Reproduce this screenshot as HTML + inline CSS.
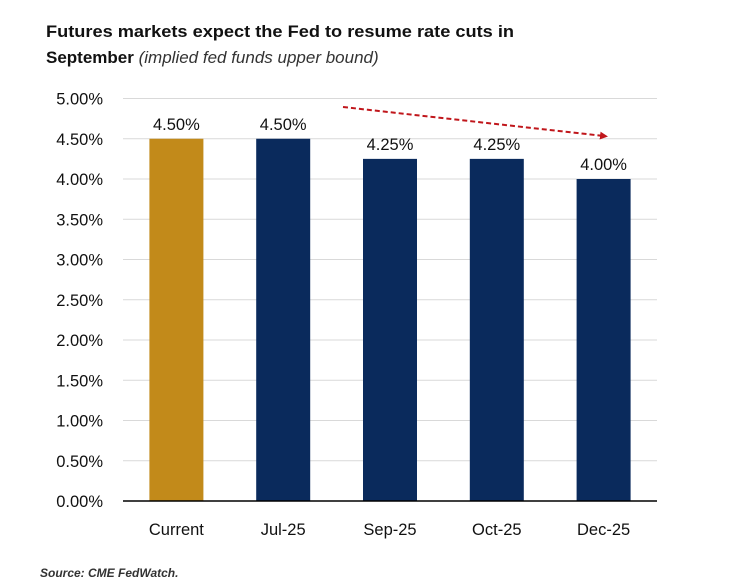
<!DOCTYPE html>
<html><head><meta charset="utf-8"><style>
body{margin:0;background:#fff;}
svg{display:block;font-family:"Liberation Sans",sans-serif;}
</style></head><body>
<svg id="chart" width="730" height="581" viewBox="0 0 730 581">
<text x="46" y="37" font-size="17" font-weight="bold" fill="#111" textLength="468" lengthAdjust="spacingAndGlyphs">Futures markets expect the Fed to resume rate cuts in</text>
<text x="46" y="63" font-size="17" fill="#111"><tspan font-weight="bold">September</tspan> <tspan font-style="italic" fill="#333">(implied fed funds upper bound)</tspan></text>
<g id="grid"></g>
<g id="bars"></g>
<g id="labels"></g>
<defs><marker id="ah" markerUnits="userSpaceOnUse" markerWidth="8" markerHeight="8" refX="4" refY="4" orient="auto"><path d="M0,0 L8,4 L0,8 z" fill="#c0161b"/></marker></defs>
<line x1="343" y1="107" x2="604" y2="136" stroke="#c0161b" stroke-width="2" stroke-dasharray="5,3" marker-end="url(#ah)"/>
<text x="40" y="577" font-size="12" font-weight="bold" font-style="italic" fill="#333">Source: CME FedWatch.</text>
</svg>
<script>
const categories=["Current","Jul-25","Sep-25","Oct-25","Dec-25"];
const values=[4.50,4.50,4.25,4.25,4.00];
const barColors=["#c28a1a","#0a2a5c","#0a2a5c","#0a2a5c","#0a2a5c"];
const ticks=[0,0.5,1,1.5,2,2.5,3,3.5,4,4.5,5];
const NS="http://www.w3.org/2000/svg";
const x0=123,x1=657,yTop=98.5,yBot=501,yMax=5;
const y=v=>yBot-(v/yMax)*(yBot-yTop);
const band=(x1-x0)/categories.length;
const xc=i=>x0+band*(i+0.5);
const bw=54;
function mk(t,a,p){const e=document.createElementNS(NS,t);for(const k in a)e.setAttribute(k,a[k]);p.appendChild(e);return e;}
const g=document.getElementById('grid'),b=document.getElementById('bars'),l=document.getElementById('labels');
ticks.forEach(t=>{
 if(t>0){const ln=mk('line',{x1:x0,x2:x1,y1:y(t),y2:y(t),stroke:'#d9d9d9','stroke-width':1},g);
 
 }
 const tx=mk('text',{x:103,y:y(t)+6,'font-size':16.5,'text-anchor':'end',fill:'#111'},l);
 tx.textContent=t.toFixed(2)+'%';
 
 
});
categories.forEach((c,i)=>{
 const r=mk('rect',{x:xc(i)-bw/2,y:y(values[i]),width:bw,height:yBot-y(values[i]),fill:barColors[i]},b);
 
 
 const v=mk('text',{x:xc(i),y:y(values[i])-9,'font-size':16.5,'text-anchor':'middle',fill:'#111'},l);
 v.textContent=values[i].toFixed(2)+'%';
 
 
 const ct=mk('text',{x:xc(i),y:535,'font-size':16.5,'text-anchor':'middle',fill:'#111'},l);
 ct.textContent=c;
 
 
});
const ax=mk('line',{x1:x0,x2:x1,y1:yBot,y2:yBot,stroke:'#000','stroke-width':1.5},l);


</script>
</body></html>
